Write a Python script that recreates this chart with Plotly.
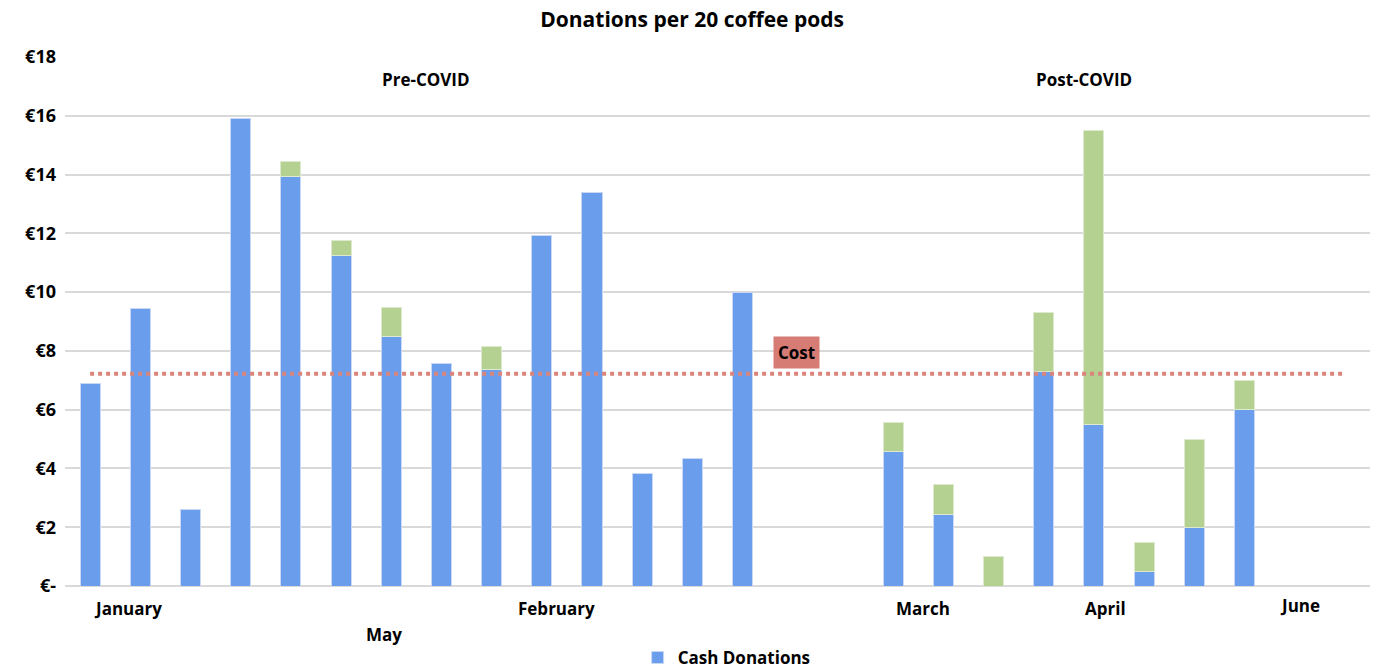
import plotly.graph_objects as go

# ---- data ----
slots = list(range(26))
cash = [6.9, 9.45, 2.62, 15.9, 13.93, 11.25, 8.48, 7.56, 7.35, 11.92, 13.38, 3.82, 4.33, 9.98,
        None, None, 4.57, 2.45, None, 7.3, 5.5, 0.48, 2.0, 6.0, None, None]
digital = [None, None, None, None, 0.5, 0.5, 1.0, None, 0.8, None, None, None, None, None,
           None, None, 1.0, 1.0, 1.0, 2.0, 10.0, 1.0, 3.0, 1.0, None, None]
cost_value = 7.22
month_labels = ["January", "February", "March", "April", "June", "May"]
month_pos = [0.76, 9.3, 16.6, 20.24, 24.1, 5.86]
month_y = [-0.042, -0.042, -0.042, -0.042, -0.036, -0.091]
y_tickvals = [0, 2, 4, 6, 8, 10, 12, 14, 16, 18]
y_ticktext = ["€-", "€2", "€4", "€6", "€8", "€10", "€12", "€14", "€16", "€18"]
period_labels = ["Pre-COVID", "Post-COVID"]
period_pos = [6.7, 19.8]

FONT = "'Open Sans', Lato, sans-serif"
BLUE = "#6A9DEC"
GREEN = "#B5D192"
COST = "#D9857B"

fig = go.Figure()
fig.add_trace(go.Bar(x=slots, y=cash, name="<b>Cash Donations</b>", width=0.4,
                     marker=dict(color=BLUE, line=dict(color="#C9D8F5", width=1))))
fig.add_trace(go.Bar(x=slots, y=digital, name="Other Donations", width=0.4, showlegend=False,
                     marker=dict(color=GREEN, line=dict(color="#DDEACD", width=1))))
fig.add_trace(go.Scatter(x=[slots[0], slots[-1]], y=[cost_value, cost_value], mode="lines",
                         showlegend=False, line=dict(color=COST, width=4, dash="dot")))

fig.update_layout(
    barmode="stack",
    width=1376, height=671,
    margin=dict(l=65, r=6, t=57, b=85, autoexpand=False),
    plot_bgcolor="white", paper_bgcolor="white",
    font=dict(family=FONT, color="black"),
    title=dict(text="<b>Donations per 20 coffee pods</b>", x=0.503, xanchor="center",
               y=0.97, yanchor="middle", font=dict(size=21, family=FONT)),
    xaxis=dict(range=[-0.5, 25.5], showticklabels=False, showgrid=False, zeroline=False,
               ticks="", automargin=False),
    yaxis=dict(range=[0, 18], tickvals=y_tickvals,
               ticktext=[f"<b>{t}</b>" for t in y_ticktext],
               tickfont=dict(size=18, family=FONT, color="black"), automargin=False,
               showgrid=True, gridcolor="#D9D9D9", gridwidth=1.5, zeroline=True,
               zerolinecolor="#D9D9D9", zerolinewidth=1.5, ticks="", ticklabelstandoff=8),
    legend=dict(orientation="h", x=0.507, xanchor="center", y=-0.136, yanchor="middle",
                font=dict(size=17, family=FONT), itemwidth=30, traceorder="normal"),
)

for lab, pos, yy in zip(month_labels, month_pos, month_y):
    fig.add_annotation(x=pos, xref="x", y=yy, yref="paper", text=f"<b>{lab}</b>",
                       showarrow=False, font=dict(size=17, family=FONT), yanchor="middle")

for lab, pos in zip(period_labels, period_pos):
    fig.add_annotation(x=pos, y=17.23, text=f"<b>{lab}</b>", showarrow=False,
                       font=dict(size=17, family=FONT), yanchor="middle")

fig.add_annotation(x=14.07, y=7.93, text="<b>Cost</b>", showarrow=False,
                   bgcolor="#D67C74", borderpad=4, font=dict(size=17, family=FONT),
                   yanchor="middle")

fig.write_html("out.html", config={"displayModeBar": False},
               post_script="document.body.style.margin='0';")
